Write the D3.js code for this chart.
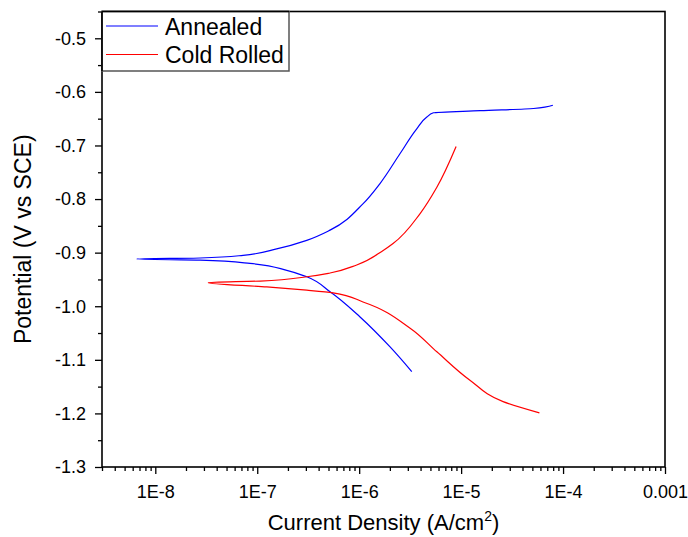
<!DOCTYPE html>
<html>
<head>
<meta charset="utf-8">
<script src="https://cdn.jsdelivr.net/npm/d3@7"></script>
<style>
  html, body { margin: 0; padding: 0; background: #fff; }
  svg { display: block; }
  text { font-family: "Liberation Sans", Arial, sans-serif; fill: #000; }
</style>
</head>
<body>
<svg id="chart" width="688" height="537"></svg>
<script>
// ---- Data (current density A/cm2, potential V vs SCE) ----
const seriesNames = ["Annealed", "Cold Rolled"];
const seriesColors = ["#0000ff", "#ff0000"];

// Annealed: cathodic end -> Ecorr -> anodic end
const annealedCurrent = [3.28e-6, 2.01e-6, 1.02e-6, 5.18e-7, 3.06e-7, 1.95e-7, 8.49e-8, 2.75e-8,
                         6.58e-9,
                         2.75e-8, 7.26e-8, 1.55e-7, 3.06e-7, 5.18e-7, 1.10e-6, 1.60e-6, 2.52e-6,
                         3.67e-6, 4.61e-6, 5.35e-6, 1.54e-5, 5.13e-5, 7.94e-5];
const annealedPotential = [-1.122, -1.076, -1.020, -0.973, -0.945, -0.933, -0.920, -0.914,
                           -0.912,
                           -0.910, -0.905, -0.893, -0.877, -0.858, -0.808, -0.771, -0.715,
                           -0.669, -0.647, -0.639, -0.635, -0.631, -0.625];

// Cold Rolled: cathodic end -> Ecorr -> anodic end
const coldCurrent = [5.86e-5, 2.58e-5, 1.22e-5, 5.78e-6, 3.16e-6, 1.09e-6, 5.55e-7, 3.06e-7, 1.24e-7,
                     3.31e-8,
                     1.07e-7, 3.06e-7, 5.18e-7, 9.46e-7, 1.72e-6, 2.15e-6, 3.96e-6, 5.78e-6, 8.93e-6];
const coldPotential = [-1.199, -1.178, -1.138, -1.085, -1.041, -0.992, -0.975, -0.970, -0.964,
                       -0.956,
                       -0.953, -0.945, -0.938, -0.923, -0.896, -0.883, -0.827, -0.778, -0.702];

// Axis ticks
const xDomain = [3e-9, 1e-3];
const xMajorTicks = [1e-8, 1e-7, 1e-6, 1e-5, 1e-4, 1e-3];
const xTickLabels = ["1E-8", "1E-7", "1E-6", "1E-5", "1E-4", "0.001"];
const yDomain = [-1.3, -0.45];
const yMajorTicks = [-1.3, -1.2, -1.1, -1.0, -0.9, -0.8, -0.7, -0.6, -0.5];
const yTickLabels = ["-1.3", "-1.2", "-1.1", "-1.0", "-0.9", "-0.8", "-0.7", "-0.6", "-0.5"];
const yMinorTicks = [-1.25, -1.15, -1.05, -0.95, -0.85, -0.75, -0.65, -0.55, -0.45];
const xTitle = "Current Density (A/cm";
const xTitleSup = "2";
const yTitle = "Potential (V vs SCE)";

// ---- Layout ----
const svg = d3.select("#chart");
const L = 102, R = 665, T = 11.5, B = 467;

const x = d3.scaleLog().domain(xDomain).range([L, R]);
const y = d3.scaleLinear().domain(yDomain).range([B, T]);

// minor x ticks: 2..9 of each decade in domain
const xMinorTicks = [];
for (let e = -9; e <= -4; e++) {
  for (let m = 2; m <= 9; m++) {
    const v = m * Math.pow(10, e);
    if (v >= xDomain[0] * 0.999 && v <= xDomain[1]) xMinorTicks.push(v);
  }
}

// X axis major
const gx = svg.append("g").attr("transform", `translate(0,${B})`)
  .call(d3.axisBottom(x).tickValues(xMajorTicks)
    .tickFormat((d, i) => xTickLabels[i]).tickSize(7).tickSizeOuter(0).tickPadding(11));
gx.select(".domain").remove();
gx.selectAll(".tick line").attr("stroke", "#000").attr("stroke-width", 1.3);
gx.selectAll(".tick text").attr("font-size", 18).attr("font-family", "Liberation Sans, Arial, sans-serif");

const gxm = svg.append("g").attr("transform", `translate(0,${B})`)
  .call(d3.axisBottom(x).tickValues(xMinorTicks).tickFormat("").tickSize(4).tickSizeOuter(0));
gxm.select(".domain").remove();
gxm.selectAll(".tick line").attr("stroke", "#000").attr("stroke-width", 1.3);

// Y axis major
const gy = svg.append("g").attr("transform", `translate(${L},0)`)
  .call(d3.axisLeft(y).tickValues(yMajorTicks)
    .tickFormat((d, i) => yTickLabels[i]).tickSize(7).tickSizeOuter(0).tickPadding(9));
gy.select(".domain").remove();
gy.selectAll(".tick line").attr("stroke", "#000").attr("stroke-width", 1.3);
gy.selectAll(".tick text").attr("font-size", 18).attr("font-family", "Liberation Sans, Arial, sans-serif");

const gym = svg.append("g").attr("transform", `translate(${L},0)`)
  .call(d3.axisLeft(y).tickValues(yMinorTicks).tickFormat("").tickSize(4).tickSizeOuter(0));
gym.select(".domain").remove();
gym.selectAll(".tick line").attr("stroke", "#000").attr("stroke-width", 1.3);

// Curves
const series = [
  { name: seriesNames[0], color: seriesColors[0], cur: annealedCurrent, pot: annealedPotential },
  { name: seriesNames[1], color: seriesColors[1], cur: coldCurrent, pot: coldPotential }
];
const line = d3.line().x(d => x(d[0])).y(d => y(d[1])).curve(d3.curveMonotoneY);
series.forEach(s => {
  const pts = s.cur.map((c, i) => [c, s.pot[i]]);
  svg.append("path").datum(pts).attr("d", line)
    .attr("fill", "none").attr("stroke", s.color).attr("stroke-width", 1.2);
});

// Frame
svg.append("rect").attr("x", L).attr("y", T).attr("width", R - L).attr("height", B - T)
  .attr("fill", "none").attr("stroke", "#000").attr("stroke-width", 1.6);

// Legend
const lg = svg.append("g");
lg.append("rect").attr("x", L).attr("y", T).attr("width", 187).attr("height", 59.5)
  .attr("fill", "#fff").attr("stroke", "#555").attr("stroke-width", 1.5);
lg.append("line").attr("x1", L).attr("x2", L).attr("y1", T).attr("y2", T + 59.5)
  .attr("stroke", "#000").attr("stroke-width", 1.6);
lg.append("line").attr("x1", L).attr("x2", L + 187).attr("y1", T).attr("y2", T)
  .attr("stroke", "#000").attr("stroke-width", 1.6);
series.forEach((s, i) => {
  const yy = 26 + i * 28.5;
  lg.append("line").attr("x1", 106).attr("x2", 158).attr("y1", yy).attr("y2", yy)
    .attr("stroke", s.color).attr("stroke-width", 1.2);
  lg.append("text").attr("x", 165).attr("y", yy + 8.5).attr("font-size", 23).text(s.name);
});

// Axis titles
const xt = svg.append("text").attr("x", (L + R) / 2).attr("y", 530)
  .attr("text-anchor", "middle").attr("font-size", 22);
xt.append("tspan").text(xTitle);
xt.append("tspan").attr("font-size", 14).attr("dy", -9).text(xTitleSup);
xt.append("tspan").attr("dy", 9).text(")");

svg.append("text").attr("transform", `translate(31,${(T + B) / 2}) rotate(-90)`)
  .attr("text-anchor", "middle").attr("font-size", 23).text(yTitle);
</script>
</body>
</html>
